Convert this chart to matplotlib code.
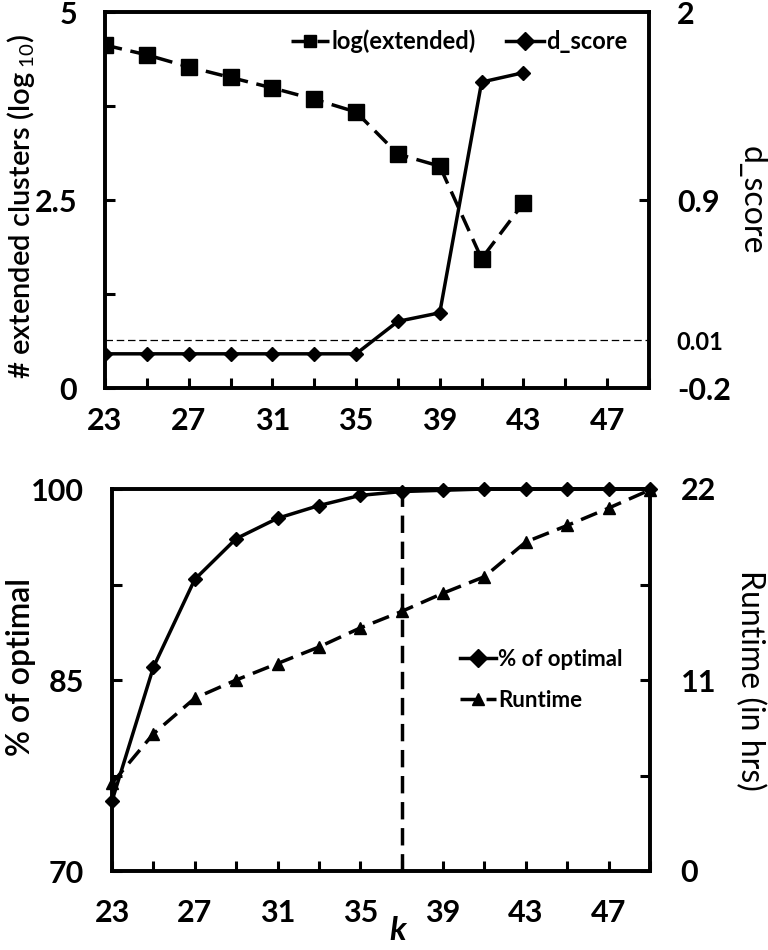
import matplotlib
matplotlib.use("Agg")
import matplotlib.pyplot as plt
import numpy as np

plt.rcParams['font.family'] = ['Lato', 'DejaVu Sans']
plt.rcParams['mathtext.fontset'] = 'custom'
plt.rcParams['mathtext.rm'] = 'Lato'
plt.rcParams['mathtext.it'] = 'Lato:italic:bold'

# ---- data ----
k_top = [23, 25, 27, 29, 31, 33, 35, 37, 39, 41, 43]
log_extended = [4.56, 4.43, 4.27, 4.13, 3.99, 3.84, 3.67, 3.11, 2.95, 1.72, 2.46]
d_score = [0.0, 0.0, 0.0, 0.0, 0.0, 0.0, 0.0, 0.19, 0.24, 1.59, 1.645]
d_threshold_pos = 0.08
d_threshold_label = "0.01"

k_bot = [23, 25, 27, 29, 31, 33, 35, 37, 39, 41, 43, 45, 47, 49]
pct_optimal = [75.5, 86.0, 92.9, 96.1, 97.7, 98.7, 99.5, 99.8, 99.9, 100, 100, 100, 100, 100]
runtime = [5.05, 7.9, 9.95, 11.0, 11.95, 12.9, 14.0, 14.95, 16.0, 16.95, 18.95, 19.9, 20.9, 21.95]
k_chosen = 37

x_ticks = list(range(23, 50, 2))
x_labels = [str(v) if (v - 23) % 4 == 0 else '' for v in x_ticks]

FS = 22
TW = 2.2
TL = 7
DASH = (0, (5, 2.5))

fig = plt.figure(figsize=(7.68, 9.5), dpi=100)
W, H = 768, 950

def px(x, y):
    return x / W, 1 - y / H

def style(ax, xpad, ypad):
    for s in ax.spines.values():
        s.set_linewidth(2.6)
    ax.tick_params(axis='both', direction='in', length=TL, width=TW, labelsize=FS)
    ax.tick_params(axis='x', pad=xpad)
    ax.tick_params(axis='y', pad=ypad)
    for lab in ax.get_xticklabels() + ax.get_yticklabels():
        lab.set_fontweight('bold')

# ---- top panel ----
ax1 = fig.add_axes([105 / W, 1 - 388 / H, (649 - 105) / W, (388 - 12) / H])
ax1.plot(k_top, log_extended, color='black', ls=DASH, lw=2.5,
         marker='s', ms=12, label='log(extended)')
ax1.set_xlim(23, 49)
ax1.set_ylim(0, 5)
ax1.set_yticks([0, 1.25, 2.5, 3.75, 5])
ax1.set_yticklabels(['0', '', '2.5', '', '5'])
ax1.set_xticks(x_ticks)
ax1.set_xticklabels(x_labels)
fig.text(*px(21, 206), '# extended clusters (log$_{\\ 10}$)', fontsize=21, fontweight='semibold',
         rotation=90, ha='center', va='center')

ax2 = ax1.twinx()
ax2.plot(k_top, d_score, color='black', ls='-', lw=2.5, marker='D', ms=7.5, label='d_score')
ax2.axhline(d_threshold_pos, color='black', ls=(0, (6, 3)), lw=0.9)
ax2.set_ylim(-0.2, 2)
ax2.set_yticks([-0.2, d_threshold_pos, 0.9, 2])
ax2.set_yticklabels(['-0.2', d_threshold_label, '0.9', '2'])
fig.text(*px(752, 200), 'd_score', fontsize=23, rotation=270, ha='center', va='center')
style(ax1, 14, 20)
style(ax2, 14, 20)
for i, t in enumerate(ax2.yaxis.get_major_ticks()):
    t.tick2line.set_markersize(TL if i == 2 else 0)
ax2.yaxis.get_ticklabels()[1].set_fontsize(17)

h1, l1 = ax1.get_legend_handles_labels()
h2, l2 = ax2.get_legend_handles_labels()
leg = ax1.legend(h1 + h2, l1 + l2, loc='upper right', ncol=2, frameon=False,
                 handlelength=1.6, handletextpad=0.1, columnspacing=1.3,
                 bbox_to_anchor=(1.0, 1.01), prop={'weight': 'bold', 'size': 17})
for h in leg.legend_handles:
    h.set_markersize(9)

# ---- bottom panel ----
ax3 = fig.add_axes([112 / W, 1 - 871 / H, (650 - 112) / W, (871 - 489) / H])
ax3.plot(k_bot, pct_optimal, color='black', ls='-', lw=2.5, marker='D', ms=7.5,
         label='% of optimal', clip_on=False, zorder=5)
ax3.axvline(k_chosen, ymax=(99.8 - 70) / 30, color='black', ls=DASH, lw=2.5)
ax3.set_xlim(23, 49)
ax3.set_ylim(70, 100)
ax3.set_yticks([70, 77.5, 85, 92.5, 100])
ax3.set_yticklabels(['70', '', '85', '', '100'])
ax3.set_xticks(x_ticks)
ax3.set_xticklabels(x_labels)
fig.text(*px(21, 667), '% of optimal', fontsize=23, fontweight='semibold',
         rotation=90, ha='center', va='center')
fig.text(*px(399, 940), '$k$', fontsize=24, ha='center', va='baseline')

ax4 = ax3.twinx()
ax4.plot(k_bot, runtime, color='black', ls=DASH, lw=2.5, marker='^', ms=9,
         label='Runtime', clip_on=False, zorder=4)
ax4.set_ylim(0, 22)
ax4.set_yticks([0, 5.5, 11, 16.5, 22])
ax4.set_yticklabels(['0', '', '11', '', '22'])
fig.text(*px(750, 680), 'Runtime (in hrs)', fontsize=23, rotation=270, ha='center', va='center')
style(ax3, 20, 20)
style(ax4, 20, 22)
ax3.set_zorder(ax4.get_zorder() + 1)
ax3.patch.set_visible(False)

h3, l3 = ax3.get_legend_handles_labels()
h4, l4 = ax4.get_legend_handles_labels()
leg2 = ax3.legend(h3 + h4, l3 + l4, loc='center left', frameon=False,
                  bbox_to_anchor=(0.61, 0.50), handlelength=1.6, handletextpad=0.1,
                  labelspacing=0.9, prop={'weight': 'bold', 'size': 16})
for h in leg2.legend_handles:
    h.set_markersize(9)

fig.savefig('out.png', dpi=100)
